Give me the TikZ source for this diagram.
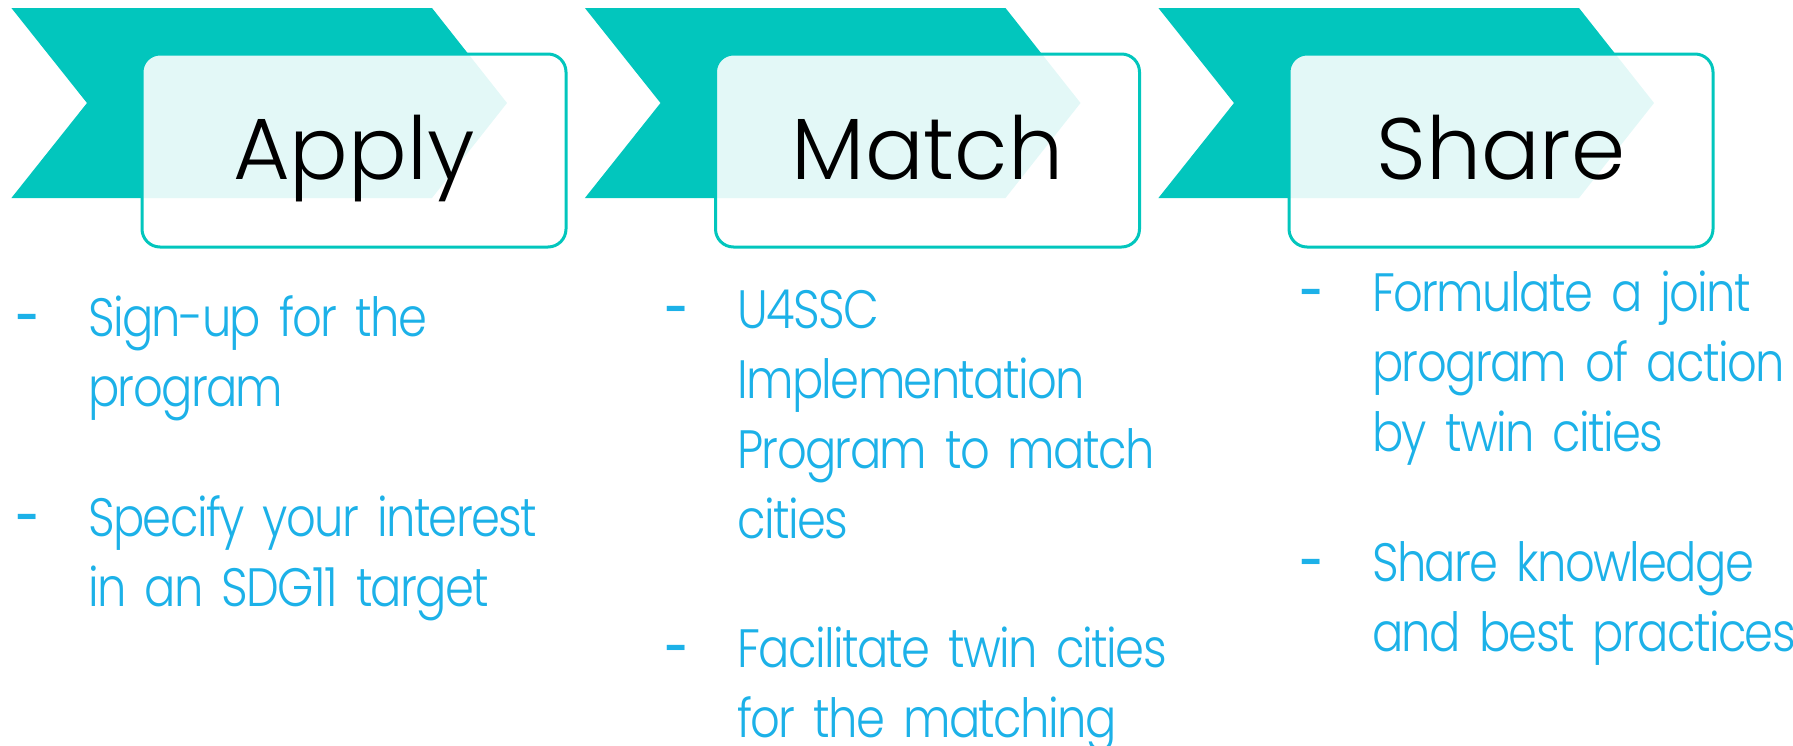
\documentclass[tikz,border=0pt]{standalone}
\usepackage{fontspec}
\setmainfont{Poppins Light}
\newfontfamily\itemfont{Poppins Light}[FakeStretch=0.86, LetterSpace=-3, WordSpace=0.55]
\newfontfamily\dashfont{Poppins Medium}[FakeStretch=0.8]

\definecolor{chevcol}{HTML}{02C6BD}
\definecolor{itemblue}{HTML}{1CB1E8}

\tikzset{
  chevron/.style={fill=chevcol},
  stepbox/.style={draw=chevcol, line width=3pt, rounded corners=18pt,
    fill=white, fill opacity=0.89, text opacity=1,
    minimum width=424pt, minimum height=193pt, inner sep=0pt,
    text height=57pt, text depth=0pt, font=\fontsize{87}{87}\selectfont},
  item/.style={text=itemblue, anchor=base west, inner sep=0pt,
    text width=600pt, align=left, font=\itemfont\fontsize{54}{70}\selectfont},
  bullet/.style={text=itemblue, anchor=base west, inner sep=0pt,
    font=\dashfont\fontsize{54}{70}\selectfont}
}

\begin{document}
\begin{tikzpicture}[x=1pt, y=-1pt]
\useasboundingbox (0,0) rectangle (1793,745);
\def\w{573.5}
%\fill [red] (0,0) rectangle (10,10);
\foreach \i in {0,1,2}
  \fill[chevron, xshift=\i*\w pt] (11.4,8) -- (432,8) -- (507,103) -- (432,198) -- (11.4,198) -- (87,103) -- cycle;
\node[stepbox] (apply) at (354,150.5) {Apply};
\node[stepbox] (match) at (927.5,150.5) {Match};
\node[stepbox] (share) at (1501,150.5) {Share};
\foreach \x/\y [count=\n] in {14/336, 14/536, 663/328, 663/667, 1298/311, 1298/581}
  \node[bullet] (dash\n) at (\x,\y) {-};
\node[item] (signup) at (88,336) {Sign-up for the\\program};
\node[item] (specify) at (88,536) {Specify your interest\\in an SDG11 target};
\node[item] (impl) at (737,328) {U4SSC\\Implementation\\Program to match\\cities};
\node[item] (facil) at (737,667) {Facilitate twin cities\\for the matching};
\node[item] (formul) at (1372,311) {Formulate a joint\\program of action\\by twin cities};
\node[item] (knowl) at (1372,581) {Share knowledge\\and best practices};
\end{tikzpicture}
\end{document}
